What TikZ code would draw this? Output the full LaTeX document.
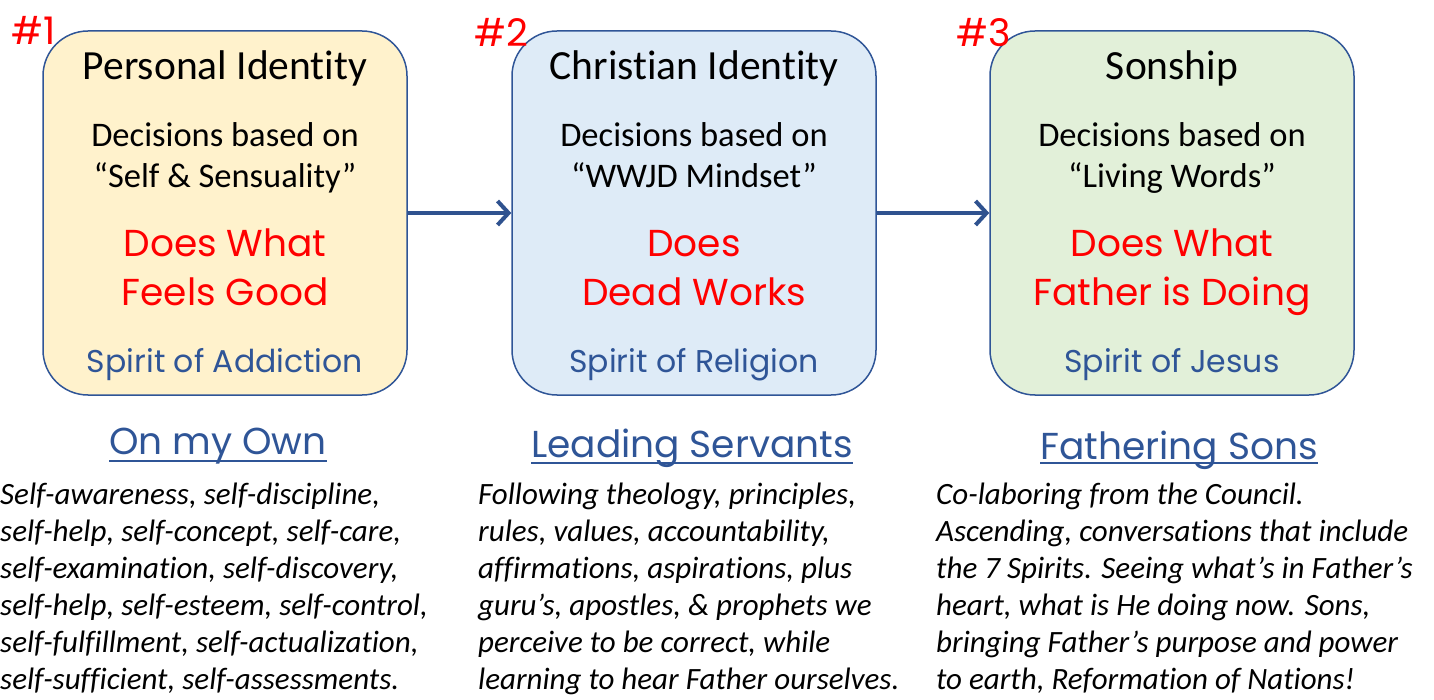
\documentclass[tikz,border=0pt]{standalone}
\usepackage{fontspec}
\setmainfont{Carlito}[Ligatures=NoCommon]
\newfontfamily\handfont{Poppins}
\usetikzlibrary{arrows.meta, positioning, calc}
\definecolor{boxline}{RGB}{47,85,151}
\definecolor{arrowblue}{RGB}{47,82,143}
\definecolor{spiritblue}{RGB}{47,85,151}
\definecolor{yellowfill}{RGB}{255,242,204}
\definecolor{bluefill}{RGB}{222,235,247}
\definecolor{greenfill}{RGB}{226,240,217}
\definecolor{hotred}{RGB}{255,0,0}

\begin{document}
\begin{tikzpicture}[x=1pt, y=-1pt,
    stage/.style={rectangle, draw=boxline, line width=1.5pt, rounded corners=45pt, minimum width=364pt, minimum height=364pt, inner sep=0pt},
    flow/.style={-{Straight Barb[length=11pt,width=24pt,line width=4pt]}, line width=4pt, arrowblue},
    title/.style={font=\fontsize{41.5}{44}\selectfont, anchor=base, inner sep=0pt},
    basis/.style={font=\fontsize{34.5}{41}\selectfont, align=center, anchor=base, inner sep=0pt},
    doing/.style={font=\handfont\fontsize{37.5}{49}\selectfont, text=hotred, align=center, anchor=base, inner sep=0pt},
    spirit/.style={font=\handfont\fontsize{31.5}{33}\selectfont, text=spiritblue, anchor=base, inner sep=0pt},
    rank/.style={font=\handfont\fontsize{38}{40}\selectfont, text=hotred, anchor=base, inner sep=0pt},
    heading/.style={font=\handfont\fontsize{37.5}{40}\selectfont, text=spiritblue, anchor=base, inner sep=0pt},
    underline/.style={line width=2.5pt, spiritblue},
    list/.style={font=\itshape\fontsize{31}{37}\selectfont, align=left, anchor=base west, inner sep=0pt}]

    \useasboundingbox (0,0) rectangle (1434,700);

    % Stages
    \node[stage, fill=yellowfill] (own) at (225,213) {};
    \node[stage, fill=bluefill] (christian) at (694,213) {};
    \node[stage, fill=greenfill] (son) at (1172,213) {};

    \draw[flow] (own) -- (christian);
    \draw[flow] (christian) -- (son);

    % Numbers
    \node[rank] (rank1) at (34,45) {\#1};
    \node[rank] (rank2) at (501,47) {\#2};
    \node[rank] (rank3) at (984,47) {\#3};

    % Box texts
    \node[title] (title1) at (225,80) {Personal Identity};
    \node[title] (title2) at (694,80) {Christian Identity};
    \node[title] (title3) at (1172,80) {Sonship};

    \node[basis] (basis1) at (225,188) {Decisions based on\\``Self \& Sensuality''};
    \node[basis] (basis2) at (694,188) {Decisions based on\\``WWJD Mindset''};
    \node[basis] (basis3) at (1172,188) {Decisions based on\\``Living Words''};

    \node[doing] (doing1) at (225,306) {Does What\\Feels Good};
    \node[doing] (doing2) at (694,306) {Does\\Dead Works};
    \node[doing] (doing3) at (1172,306) {Does What\\Father is Doing};

    \node[spirit] (spirit1) at (225,372) {Spirit of Addiction};
    \node[spirit] (spirit2) at (694,372) {Spirit of Religion};
    \node[spirit] (spirit3) at (1172,372) {Spirit of Jesus};

    % Headings
    \node[heading] (head1) at (218,454) {On my Own};
    \node[heading] (head2) at (692,457) {Leading Servants};
    \node[heading] (head3) at (1179,459) {Fathering Sons};

    \draw[underline] ($(head1.base west)+(0,7)$) -- ($(head1.base east)+(0,7)$);
    \draw[underline] ($(head2.base west)+(0,6)$) -- ($(head2.base east)+(0,6)$);
    \draw[underline] ($(head3.base west)+(0,4)$) -- ($(head3.base east)+(0,4)$);

    % Lists
    \node[list] (list1) at (0,689) {Self-awareness, self-discipline,\\self-help, self-concept, self-care,\\self-examination, self-discovery,\\self-help, self-esteem, self-control,\\self-fulfillment, self-actualization,\\self-sufficient, self-assessments.};
    \node[list] (list2) at (478,689) {Following theology, principles,\\rules, values, accountability,\\affirmations, aspirations, plus\\guru’s, apostles, \& prophets we\\perceive to be correct, while\\learning to hear Father ourselves.};
    \node[list] (list3) at (936,689) {Co-laboring from the Council.\\Ascending, conversations that include\\the 7 Spirits. Seeing what’s in Father’s\\heart, what is He doing now. Sons,\\bringing Father’s purpose and power\\to earth, Reformation of Nations!};

\end{tikzpicture}
\end{document}
